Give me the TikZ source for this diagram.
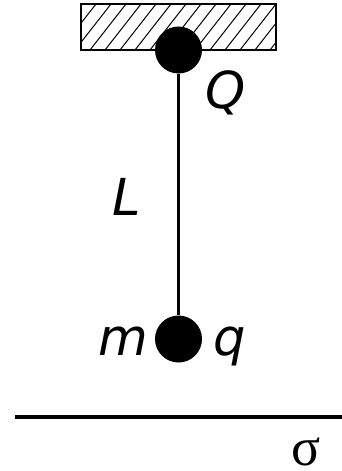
\documentclass[tikz,border=0pt]{standalone}
\usepackage{fontspec}
\setmainfont{DejaVu Sans}
\newfontfamily\sigmafont{Liberation Serif}
\tikzset{
	lbl/.style = {inner sep = 0pt, anchor = base, font = \fontsize{51}{53}\selectfont\itshape},
	ball/.style = {circle, fill = black, inner sep = 0pt, minimum size = 47pt}
}
\begin{document}
\begin{tikzpicture}[x = 1pt, y = -1pt]
	\useasboundingbox (0,0) rectangle (342,471);
	\begin{scope}
	\clip (81,4) rectangle (276,50);
	\foreach \i in {30,45,...,300}
		\draw[line width = 1pt] (\i,50) -- ++(36,-46);
	\end{scope}
	\draw[line width = 1.6pt] (81,4) rectangle (276,50);
	\node[ball] (top) at (178.5,50) {};
	\node[ball] (bob) at (178.5,339) {};
	\draw[line width = 2.2pt] (top) -- (bob);
	\node[lbl] (Q) at (226,108) {Q};
	\node[lbl] (L) at (127,215) {L};
	\node[lbl] (m) at (123,355) {m};
	\node[lbl] (q) at (230,355) {q};
	\coordinate (pl) at (15,417);
	\coordinate (pr) at (342,417);
	\draw[line width = 4pt] (pl) -- (pr);
	\node[inner sep = 0pt, anchor = base, font = \fontsize{54}{56}\selectfont\sigmafont] (sigma) at (306,465) {σ};
\end{tikzpicture}
\end{document}
